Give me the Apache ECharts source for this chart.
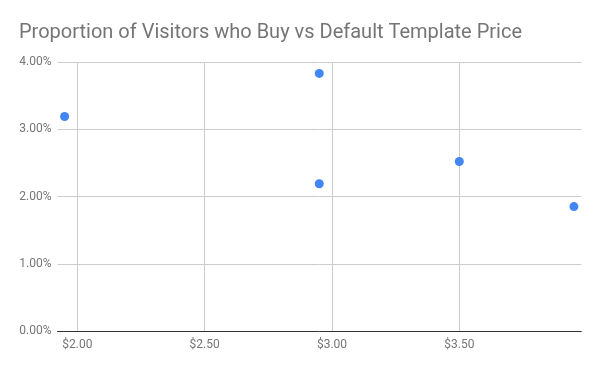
<!DOCTYPE html>
<html><head><meta charset="utf-8">
<script src="https://cdn.jsdelivr.net/npm/echarts@6/dist/echarts.min.js"></script>
<style>html,body{margin:0;padding:0;background:#fff}#c{width:600px;height:371px}</style>
</head><body><div id="c"></div>
<script>
const titleText = 'Proportion of Visitors who Buy vs Default Template Price';
const prices = [1.95, 2.95, 2.95, 3.50, 3.95];
const buyRatePct = [3.19, 3.83, 2.19, 2.52, 1.85];
const yTicks = [0, 1, 2, 3, 4];

const points = prices.map((p, i) => [p, buyRatePct[i]]);
const chart = echarts.init(document.getElementById('c'), null, {renderer: 'canvas'});
chart.setOption({
  animation: false,
  backgroundColor: '#fff',
  textStyle: {fontFamily: 'Roboto'},
  title: {
    text: titleText, left: 14, top: 18,
    textStyle: {fontFamily: 'Roboto', fontSize: 20, fontWeight: 'normal', color: '#757575'}
  },
  grid: {left: 57.5, right: 18.7, top: 62, bottom: 40, containLabel: false},
  xAxis: {
    type: 'value', min: 1.9222, max: 3.979, minInterval: 0.5, maxInterval: 0.5,
    axisLine: {show: true, onZero: false, lineStyle: {color: '#333', width: 1}},
    axisTick: {show: false},
    axisLabel: {
      color: '#757575', fontSize: 12, fontFamily: 'Roboto', margin: 8,
      showMinLabel: false, showMaxLabel: false,
      formatter: v => (Math.abs(v * 2 - Math.round(v * 2)) < 1e-6) ? '$' + v.toFixed(2) : ''
    },
    splitLine: {show: true, showMinLine: false, showMaxLine: false, lineStyle: {color: '#ccc', width: 1}}
  },
  yAxis: {
    type: 'value', min: yTicks[0], max: yTicks[yTicks.length - 1], interval: 1,
    axisLine: {show: false}, axisTick: {show: false},
    axisLabel: {color: '#757575', fontSize: 12, fontFamily: 'Roboto', margin: 6,
      formatter: v => v.toFixed(2) + '%'},
    splitLine: {show: true, lineStyle: {color: '#ccc', width: 1}}
  },
  series: [{
    type: 'scatter', data: points, symbolSize: 9,
    itemStyle: {color: '#4285f4', opacity: 1}
  }]
});
</script></body></html>
